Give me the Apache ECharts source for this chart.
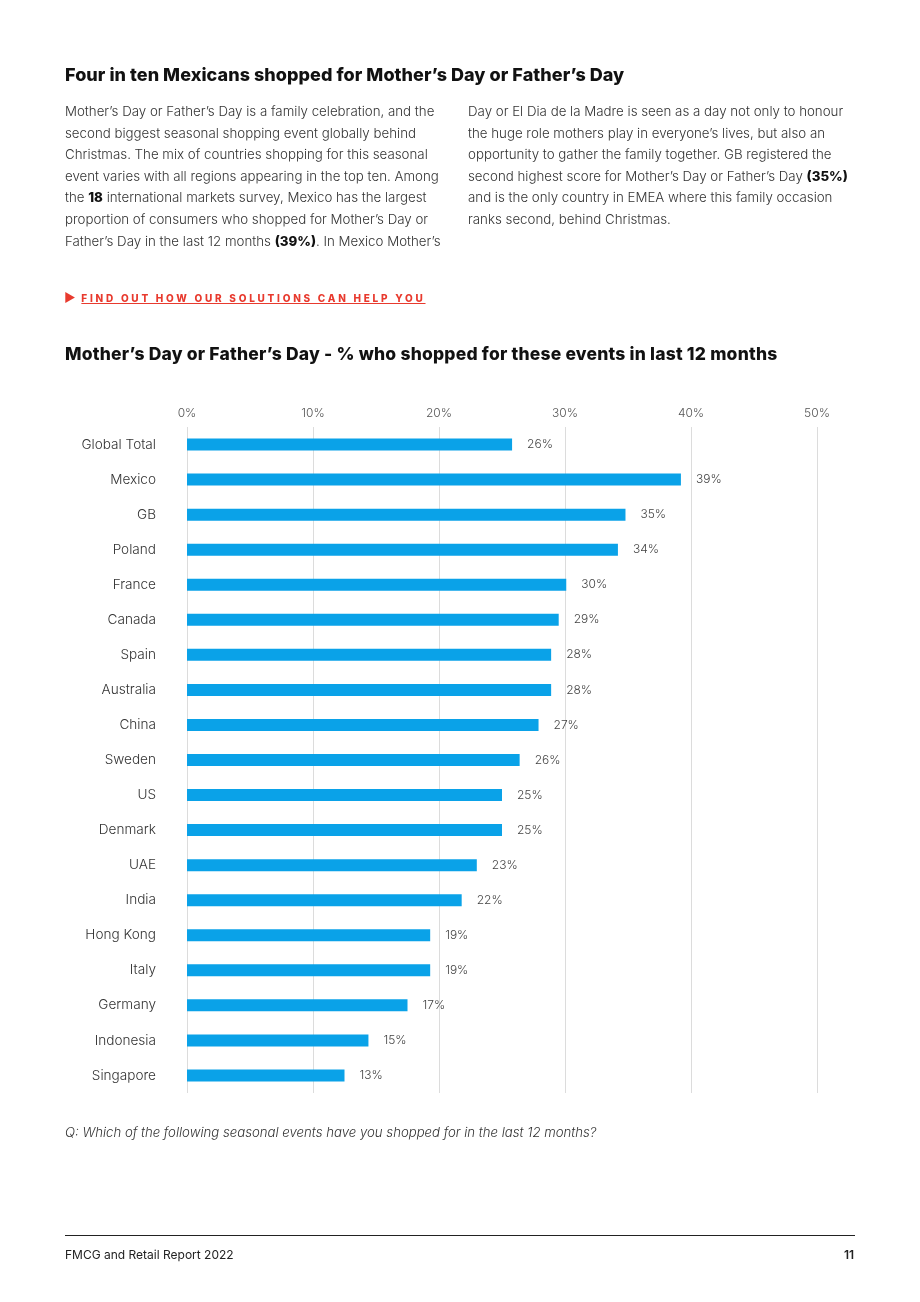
<!DOCTYPE html>
<html>
<head>
<meta charset="utf-8">
<script src="https://cdn.jsdelivr.net/npm/echarts@6/dist/echarts.min.js"></script>
<style>
  body { margin: 0; background: #fff; font-family: Inter, "Noto Sans", sans-serif; color: #333; }
  #page { position: relative; width: 920px; height: 1302px; overflow: hidden; }
  #chart { position: absolute; left: 0; top: 0; width: 920px; height: 1302px; }
  h1 { position: absolute; left: 65px; top: 64px; margin: 0; font-size: 18px; font-weight: 800; color: #111; letter-spacing: 0.05px; }
  h2 { position: absolute; left: 65px; top: 343px; margin: 0; font-size: 17.5px; font-weight: 800; color: #111; letter-spacing: 0.2px; }
  .col { position: absolute; top: 101px; font-size: 13.3px; line-height: 21.6px; font-weight: 300; color: #333; }
  .col b { font-weight: 800; color: #111; }
  #link { position: absolute; left: 64px; top: 290px; font-size: 10px; font-weight: 800; letter-spacing: 2.75px; color: #e83a2e; }
  #link i { font-style: normal; font-size: 12px; }
  #link span { text-decoration: underline; margin-left: 3px; }
  #note { position: absolute; left: 65px; top: 1124px; font-size: 13.2px; font-style: italic; font-weight: 300; color: #333; }
  #rule { position: absolute; left: 65px; top: 1235px; width: 790px; height: 1px; background: #222; }
  #foot { position: absolute; left: 65px; top: 1247px; font-size: 12px; color: #222; font-weight: 400; }
  #pg { position: absolute; left: 844px; top: 1247px; font-size: 12px; color: #222; font-weight: 600; }
</style>
</head>
<body>
<div id="page">
  <div id="chart"></div>
  <h1>Four in ten Mexicans shopped for Mother’s Day or Father’s Day</h1>
  <div class="col" style="left:65px;width:400px;">
    Mother’s Day or Father’s Day is a family celebration, and the<br>
    second biggest seasonal shopping event globally behind<br>
    Christmas. The mix of countries shopping for this seasonal<br>
    event varies with all regions appearing in the top ten. Among<br>
    the <b>18</b> international markets survey, Mexico has the largest<br>
    proportion of consumers who shopped for Mother’s Day or<br>
    Father’s Day in the last 12 months <b>(39%)</b>. In Mexico Mother’s
  </div>
  <div class="col" style="left:468px;width:420px;">
    Day or El Dia de la Madre is seen as a day not only to honour<br>
    the huge role mothers play in everyone’s lives, but also an<br>
    opportunity to gather the family together. GB registered the<br>
    second highest score for Mother’s Day or Father’s Day <b>(35%)</b><br>
    and is the only country in EMEA where this family occasion<br>
    ranks second, behind Christmas.
  </div>
  <div id="link"><i>&#9654;</i><span>FIND OUT HOW OUR SOLUTIONS CAN HELP YOU</span></div>
  <h2>Mother’s Day or Father’s Day - % who shopped for these events in last 12 months</h2>
  <div id="note">Q: Which of the following seasonal events have you shopped for in the last 12 months?</div>
  <div id="rule"></div>
  <div id="foot">FMCG and Retail Report 2022</div>
  <div id="pg">11</div>
</div>
<script>
// categories, top to bottom
let countries = ['Global Total', 'Mexico', 'GB', 'Poland', 'France', 'Canada', 'Spain', 'Australia', 'China',
                 'Sweden', 'US', 'Denmark', 'UAE', 'India', 'Hong Kong', 'Italy', 'Germany', 'Indonesia', 'Singapore'];
// bar lengths as drawn (unrounded)
let shares = [25.8, 39.2, 34.8, 34.2, 30.1, 29.5, 28.9, 28.9, 27.9, 26.4, 25.0, 25.0, 23.0, 21.8, 19.3, 19.3, 17.5, 14.4, 12.5];
// printed labels
let shareLabels = ['26%', '39%', '35%', '34%', '30%', '29%', '28%', '28%', '27%', '26%', '25%', '25%', '23%', '22%', '19%', '19%', '17%', '15%', '13%'];
let tickValues = [0, 10, 20, 30, 40, 50];

let fontFamily = 'Inter, "Noto Sans", sans-serif';

let option = {
  animation: false,
  textStyle: {fontFamily: fontFamily},
  grid: {
    left: 187,
    right: 103,
    top: 427,
    height: 666,
    containLabel: false
  },
  xAxis: {
    type: 'value',
    position: 'top',
    min: 0,
    max: 50,
    interval: 10,
    axisLine: {show: false},
    axisTick: {show: false},
    axisLabel: {
      margin: 8,
      color: '#555',
      fontSize: 12,
      fontWeight: 300,
      formatter: function (v) {
        return tickValues.indexOf(v) >= 0 ? v + '%' : '';
      }
    },
    splitLine: {show: true, lineStyle: {color: '#dcdcdc', width: 1}}
  },
  yAxis: {
    type: 'category',
    inverse: true,
    data: countries,
    axisLine: {show: false},
    axisTick: {show: false},
    axisLabel: {margin: 31, color: '#333', fontSize: 13.6, fontWeight: 300}
  },
  series: [{
    type: 'bar',
    data: shares,
    barWidth: 12,
    itemStyle: {color: '#0aa2e8'},
    label: {
      show: true,
      position: 'right',
      distance: 15,
      color: '#444',
      fontSize: 12,
      fontWeight: 300,
      formatter: function (p) {
        return shareLabels[p.dataIndex];
      }
    }
  }]
};

let myChart = echarts.init(document.getElementById('chart'), null, {renderer: 'canvas'});
myChart.setOption(option);
</script>
</body>
</html>
